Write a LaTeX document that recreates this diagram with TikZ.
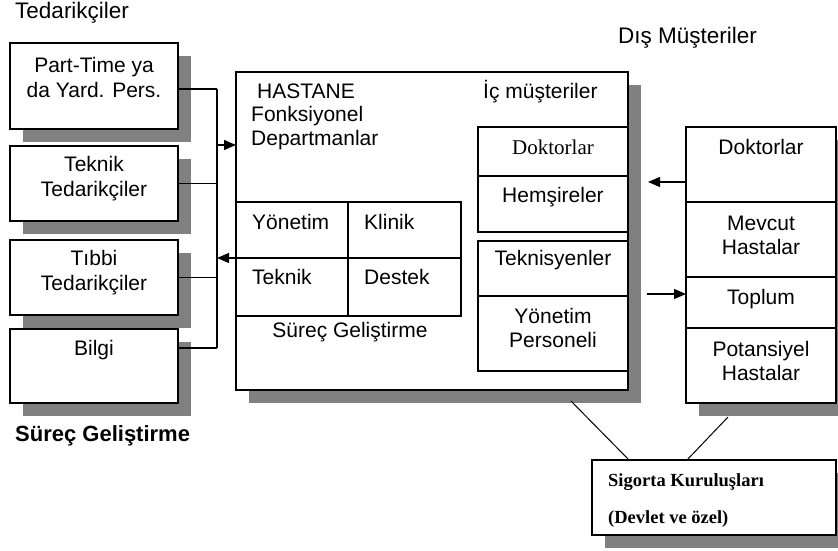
\documentclass[tikz,border=0pt]{standalone}
\usepackage{fontspec}
\setmainfont{Liberation Sans}
\newfontfamily\serifface{Liberation Serif}
\usetikzlibrary{arrows.meta,shadows}
\definecolor{shadowgray}{HTML}{808080}

\begin{document}
\begin{tikzpicture}[x=1pt,y=-1pt,
  font=\fontsize{21}{24.5}\selectfont,
  frame/.style={draw, line width=1.2pt, fill=white, inner sep=0pt, outer sep=0pt, anchor=north west},
  shadowed/.style={drop shadow={shadow xshift=13pt, shadow yshift=-13pt, fill=shadowgray, opacity=1}},
  txt/.style={inner sep=0pt, text height=14pt, text depth=4pt},
  multi/.style={inner sep=0pt, align=center},
  title/.style={txt, anchor=west, font=\fontsize{22.5}{26}\selectfont},
  insurer/.style={txt, anchor=west, font=\fontsize{18.5}{22}\serifface\bfseries},
  wire/.style={line width=1.2pt},
  thinwire/.style={line width=1pt},
  arr/.style={line width=1.2pt, -{Triangle[length=12pt,width=10pt]}},
]
\useasboundingbox (0,0) rectangle (838,551);

% ---------- suppliers (left column) ----------
\node[title] (supTitle) at (15,14) {Tedarikçiler};

\node[frame, shadowed, minimum width=168pt, minimum height=86pt] (sup1) at (10,43) {};
\node[frame, shadowed, minimum width=168pt, minimum height=75pt] (sup2) at (10,146) {};
\node[frame, shadowed, minimum width=168pt, minimum height=75pt] (sup3) at (10,240) {};
\node[frame, shadowed, minimum width=168pt, minimum height=74pt] (sup4) at (10,329) {};

\node[multi] (sup1t) at (94,77.5) {Part-Time ya\\da Yard. Pers.};
\node[multi] (sup2t) at (94,178.5) {Teknik\\Tedarikçiler};
\node[multi] (sup3t) at (94,272.5) {Tıbbi\\Tedarikçiler};
\node[txt] (sup4t) at (94,350) {Bilgi};

\node[txt, anchor=west, font=\fontsize{22}{26}\selectfont\bfseries] (supFoot) at (15,436) {Süreç Geliştirme};

% supplier bus
\coordinate (busTop) at (217,89);
\coordinate (busBot) at (217,348);
\draw[wire] (busTop) -- (busBot);
\draw[wire] (sup1.east |- busTop) -- (busTop);
\draw[wire] (sup2.east) -- (sup2.east -| busTop);
\draw[wire] (sup3.east) -- (sup3.east -| busTop);
\draw[wire] (sup4.east |- busBot) -- (busBot);

% ---------- hospital ----------
\node[frame, shadowed, minimum width=392pt, minimum height=318pt] (hosp) at (236,72) {};
\node[txt, anchor=west] (hospName) at (257,93) {HASTANE};
\node[inner sep=0pt, align=left, anchor=west] (hospDept) at (251,128) {Fonksiyonel\\Departmanlar};
\node[txt, anchor=west] (inTitle) at (483,93) {İç müşteriler};

% functional departments grid
\node[frame, minimum width=112pt, minimum height=56pt] (cellA) at (236,202) {};
\node[frame, minimum width=113pt, minimum height=56pt] (cellB) at (348,202) {};
\node[frame, minimum width=112pt, minimum height=58pt] (cellC) at (236,258) {};
\node[frame, minimum width=113pt, minimum height=58pt] (cellD) at (348,258) {};
\node[txt, anchor=west] (cellAt) at (252,224) {Yönetim};
\node[txt, anchor=west] (cellBt) at (364,224) {Klinik};
\node[txt, anchor=west] (cellCt) at (252,279) {Teknik};
\node[txt, anchor=west] (cellDt) at (364,279) {Destek};
\node[txt] (hospFootT) at (350,332) {Süreç Geliştirme};

% internal customers
\node[frame, minimum width=150pt, minimum height=49pt] (inDoc) at (478,127) {};
\node[frame, minimum width=150pt, minimum height=56pt] (inNurse) at (478,176) {};
\node[frame, minimum width=150pt, minimum height=55pt] (inTech) at (478,241) {};
\node[frame, minimum width=150pt, minimum height=75pt] (inMgmt) at (478,296) {};
\node[txt, font=\fontsize{21}{24}\serifface] (inDocT) at (553,149) {Doktorlar};
\node[txt] (inNurseT) at (553,197) {Hemşireler};
\node[txt] (inTechT) at (553,260) {Teknisyenler};
\node[multi] (inMgmtT) at (553,328) {Yönetim\\Personeli};

% ---------- external customers ----------
\node[title] (extTitle) at (618,39) {Dış Müşteriler};
\node[frame, shadowed, minimum width=150pt, minimum height=276pt] (extCol) at (686,127) {};
\node[frame, minimum width=150pt, minimum height=75pt] (ext1) at (686,127) {};
\node[frame, minimum width=150pt, minimum height=75pt] (ext2) at (686,202) {};
\node[frame, minimum width=150pt, minimum height=51pt] (ext3) at (686,277) {};
\node[frame, minimum width=150pt, minimum height=75pt] (ext4) at (686,328) {};
\node[txt] (ext1t) at (761,149) {Doktorlar};
\node[multi] (ext2t) at (761,235.5) {Mevcut\\Hastalar};
\node[txt] (ext3t) at (761,299) {Toplum};
\node[multi] (ext4t) at (761,361) {Potansiyel\\Hastalar};

% ---------- insurers ----------
\node[frame, shadowed, minimum width=244pt, minimum height=75pt] (ins) at (592,460) {};
\node[insurer] (insT1) at (608,481) {Sigorta Kuruluşları};
\node[insurer] (insT2) at (608,518) {(Devlet ve özel)};

% ---------- connectors ----------
\coordinate (inArrow) at (217,145);
\coordinate (outArrow) at (217,258);
\draw[arr] (inArrow) -- (inArrow -| hosp.west);
\draw[arr] (outArrow -| hosp.west) -- (outArrow);

\coordinate (fromExt) at (648,182);
\coordinate (toExt) at (647,294);
\draw[arr] (fromExt -| extCol.west) -- (fromExt);
\draw[arr] (toExt) -- (toExt -| extCol.west);

\coordinate (hospFoot) at (571,401);
\coordinate (extFoot) at (728,417);
\draw[thinwire] (hospFoot) -- ([xshift=37pt]ins.north west);
\draw[thinwire] (extFoot) -- ([xshift=95pt]ins.north west);
\end{tikzpicture}
\end{document}
